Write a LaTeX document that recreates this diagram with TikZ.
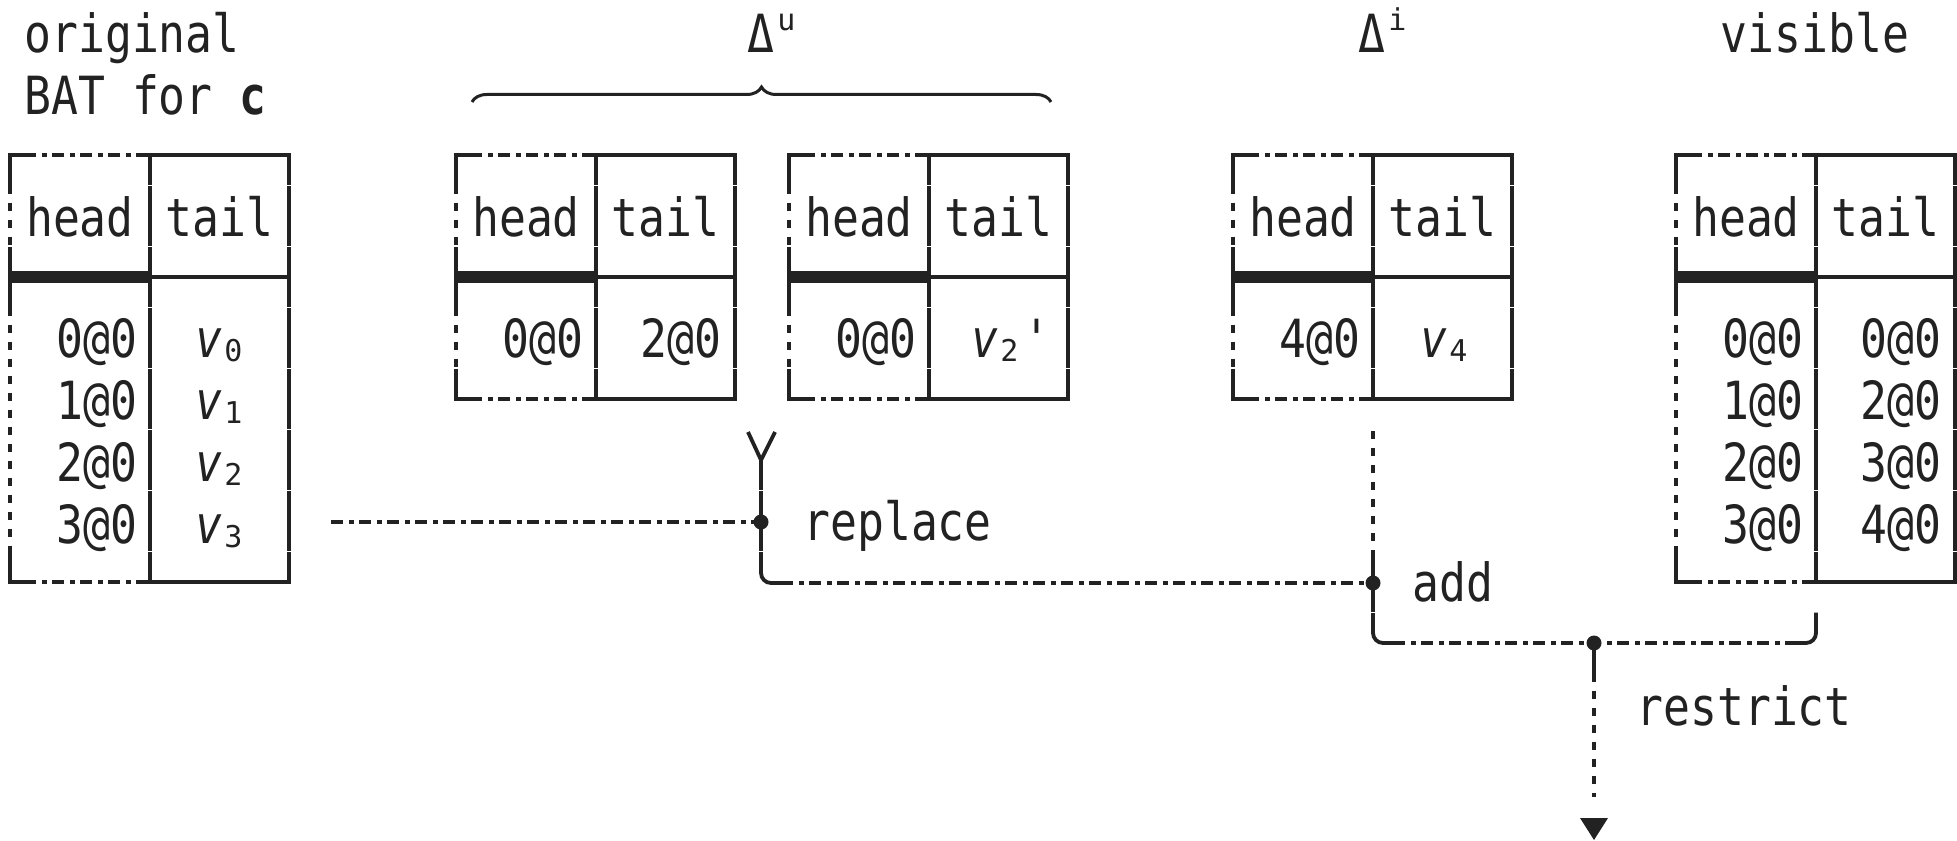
\documentclass[tikz,border=0pt]{standalone}
\usepackage{fontspec}
\newfontfamily\dm[FakeStretch=0.85]{DejaVu Sans Mono}
\newfontfamily\dmw{DejaVu Sans Mono}
\usetikzlibrary{decorations.pathreplacing}
\definecolor{ink}{HTML}{222222}
\newcommand\vsub[1]{\textit{v}\kern1pt\raisebox{-2pt}{\dmw\fontsize{15pt}{15pt}\selectfont #1}}
\newcommand\supr[1]{\kern1.5pt\raisebox{11pt}{\dmw\fontsize{15pt}{15pt}\selectfont #1}}
\tikzset{
  lnsolid/.style={draw=ink, line width=1.9pt},
  lndashdot/.style={draw=ink, line width=1.9pt, dash pattern=on 6pt off 3pt on 2.5pt off 2.5pt},
  lndashed/.style={draw=ink, line width=1.9pt, dash pattern=on 4pt off 4.5pt},
  lnthick/.style={draw=ink, line width=6pt},
  gaptick/.style={draw=white, line width=0.8pt},
  jdot/.style={circle, fill=ink, minimum size=7.5pt, inner sep=0pt},
  cellt/.style={anchor=base},
  numr/.style={anchor=base east},
  vl/.style={anchor=base west},
  lbl/.style={anchor=base west},
  bat/.pic={
    \pgfmathsetmacro\bb{122+61*(#1+1)}
    \pgfmathtruncatemacro\kk{#1+2}
    \draw[lnsolid] (140,0) -- (279,0) -- (279,\bb) -- (140,\bb);
    \draw[lnsolid] (140,0) -- (140,\bb);
    \draw[lnsolid] (140,122) -- (279,122);
    \draw[lnthick] (0,122) -- (140,122);
    \draw[lnsolid] (0,30.5) -- (0,0) -- (14,0);
    \draw[lndashdot] (14,0) -- (126,0);
    \draw[lnsolid] (126,0) -- (140,0);
    \draw[lnsolid] (0,\bb-30.5) -- (0,\bb) -- (14,\bb);
    \draw[lndashdot] (14,\bb) -- (126,\bb);
    \draw[lnsolid] (126,\bb) -- (140,\bb);
    \draw[lndashed] (0,30.5) -- (0,91.5);
    \draw[lnsolid] (0,91.5) -- (0,152.5);
    \draw[lndashed] (0,152.5) -- (0,\bb-30.5);
    \foreach \k in {0,...,\kk} {
      \draw[gaptick] (135,30.5+61*\k) -- (145,30.5+61*\k);
      \draw[gaptick] (274,30.5+61*\k) -- (284,30.5+61*\k);
    }
  }
}
\begin{document}
\begin{tikzpicture}[x=0.5pt,y=-0.5pt,
  every node/.style={font=\dm\fontsize{26.3pt}{30pt}\selectfont, inner sep=0pt, text=ink}]
\useasboundingbox (0,0) rectangle (1957,840);

% titles
\node[lbl] (orig1) at (24,53) {original};
\node[lbl] (orig2) at (24,114) {BAT for \textbf{c}};
\node[lbl] (du) at (747,53) {Δ\supr{u}};
\node[lbl] (di) at (1358,53) {Δ\supr{i}};
\node[cellt] (vis) at (1815,53) {visible};
\draw[draw=ink, line width=1.5pt, decorate, decoration={brace, amplitude=7.5pt}] (472,102) -- (1051,102);

% tables
\pic (t1) at (10,155) {bat=4};
\pic (t2) at (456,155) {bat=1};
\pic (t3) at (789,155) {bat=1};
\pic (t4) at (1233,155) {bat=1};
\pic (t5) at (1676,155) {bat=4};

% T1
\node[cellt] (t1h) at (80,236) {head};
\node[cellt] (t1t) at (219.5,236) {tail};
\node[numr] (t1a) at (138,357) {0@0};
\node[numr] (t1b) at (138,419) {1@0};
\node[numr] (t1c) at (138,481) {2@0};
\node[numr] (t1d) at (138,543) {3@0};
\node[vl] (t1e) at (195,357) {\vsub{0}};
\node[vl] (t1f) at (195,419) {\vsub{1}};
\node[vl] (t1g) at (195,481) {\vsub{2}};
\node[vl] (t1i) at (195,543) {\vsub{3}};
% T2
\node[cellt] (t2h) at (526,236) {head};
\node[cellt] (t2t) at (665.5,236) {tail};
\node[numr] (t2a) at (584,357) {0@0};
\node[numr] (t2b) at (722,357) {2@0};
% T3
\node[cellt] (t3h) at (859,236) {head};
\node[cellt] (t3t) at (998.5,236) {tail};
\node[numr] (t3a) at (917,357) {0@0};
\node[vl] (t3b) at (971,357) {\vsub{2}\kern2.5pt'};
% T4
\node[cellt] (t4h) at (1303,236) {head};
\node[cellt] (t4t) at (1442.5,236) {tail};
\node[numr] (t4a) at (1361,357) {4@0};
\node[vl] (t4b) at (1420,357) {\vsub{4}};
% T5
\node[cellt] (t5h) at (1746,236) {head};
\node[cellt] (t5t) at (1885.5,236) {tail};
\node[numr] (t5a) at (1804,357) {0@0};
\node[numr] (t5b) at (1804,419) {1@0};
\node[numr] (t5c) at (1804,481) {2@0};
\node[numr] (t5d) at (1804,543) {3@0};
\node[numr] (t5e) at (1942,357) {0@0};
\node[numr] (t5f) at (1942,419) {2@0};
\node[numr] (t5g) at (1942,481) {3@0};
\node[numr] (t5i) at (1942,543) {4@0};

% labels
\node[lbl] (lrep) at (803,540) {replace};
\node[lbl] (ladd) at (1412,601) {add};
\node[lbl] (lres) at (1636,725) {restrict};

% connectors
\coordinate (rs) at (331,522);
\node[jdot] (j1) at (761,522) {};
\coordinate (yl) at (748,432);
\coordinate (yr) at (775,432);
\coordinate (ym) at (761,460);
\draw[lnsolid] (yl) -- (ym) -- (yr);
\draw[lnsolid] (ym) -- (j1.center);
\draw[lndashdot] (rs) -- (j1.center);
\coordinate (c1) at (781,583);
\draw[lnsolid, rounded corners=5pt] (j1.center) |- (c1);
\node[jdot] (j2) at (1373,583) {};
\draw[lndashdot] (c1) -- (j2.center);
\coordinate (d4) at (1373,431);
\coordinate (d4b) at (1373,551.5);
\draw[lndashed] (d4) -- (d4b);
\draw[lnsolid] (d4b) -- (j2.center);
\coordinate (c2) at (1393,643);
\draw[lnsolid, rounded corners=5pt] (j2.center) |- (c2);
\coordinate (c3) at (1796,643);
\node[jdot] (j3) at (1594,643) {};
\draw[lndashdot] (c2) -- (c3);
\coordinate (rt) at (1816,612.5);
\draw[lnsolid, rounded corners=5pt] (c3) -| (rt);
\coordinate (s3) at (1594,673.5);
\coordinate (ae) at (1594,797);
\draw[lnsolid] (j3.center) -- (s3);
\draw[lndashed] (s3) -- (ae);
\coordinate (tl) at (1580,818);
\coordinate (tr) at (1608,818);
\coordinate (tip) at (1594,840);
\fill[ink] (tl) -- (tr) -- (tip) -- cycle;
% cell-boundary gaps on connector stems
\draw[gaptick] (756,490.5) -- (766,490.5);
\draw[gaptick] (756,551.5) -- (766,551.5);
\draw[gaptick] (1368,612.5) -- (1378,612.5);
\end{tikzpicture}
\end{document}
